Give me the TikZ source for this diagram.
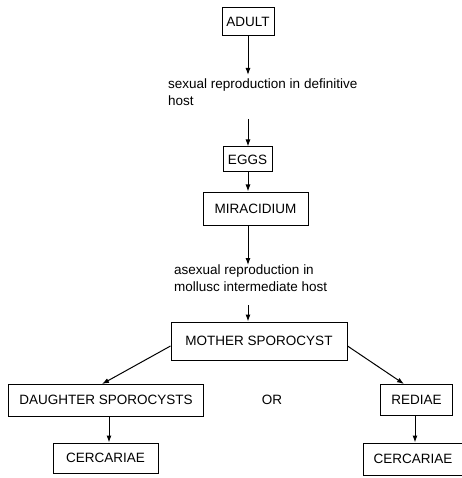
\documentclass[tikz,border=0pt]{standalone}
\usepackage{fontspec}
\setmainfont{Liberation Sans}
\usepackage{tikz}
\usetikzlibrary{arrows.meta,positioning,calc}

\begin{document}
\begin{tikzpicture}[x=1pt,y=-1pt,
  stage/.style={draw, line width=1pt, inner sep=0pt, font=\fontsize{13.5}{16}\selectfont},
  note/.style={anchor=north west, inner sep=0pt, align=left, font=\fontsize{13.5}{16.5}\selectfont},
  arr/.style={-{Latex[length=7pt,width=5pt]}, line width=1pt}]
\useasboundingbox (0,0) rectangle (461,478);
% life cycle, top part
\node[stage, minimum width=52pt, minimum height=28pt] (adult) at (248,22) {ADULT};
\node[note] (sexual) at (168,79) {sexual reproduction in definitive\\host};
\coordinate (s1) at (248,75);
\coordinate (s2) at (248,119);
\draw[arr] (adult.south -| s1) -- (s1);
\node[stage, minimum width=49pt, minimum height=25pt] (eggs) at (247.5,159.5) {EGGS};
\draw[arr] (s2) -- (eggs.north -| s2);
\node[stage, minimum width=105pt, minimum height=33pt] (mira) at (255.5,208.5) {MIRACIDIUM};
\draw[arr] (eggs.south -| s1) -- (mira.north -| s1);

% asexual part in the snail
\node[note] (asexual) at (174,265) {asexual reproduction in\\mollusc intermediate host};
\coordinate (s3) at (248,265);
\coordinate (s4) at (248,305);
\draw[arr] (mira.south -| s3) -- (s3);
\node[stage, minimum width=176pt, minimum height=38pt] (mother) at (259,341) {MOTHER SPOROCYST};
\draw[arr] (s4) -- (mother.north -| s4);

% two routes
\node[stage, minimum width=195pt, minimum height=32pt] (daughter) at (106,400) {DAUGHTER SPOROCYSTS};
\node[font=\fontsize{13.5}{16}\selectfont] (or) at (272,400) {OR};
\node[stage, minimum width=72pt, minimum height=31pt] (rediae) at (416.5,399.5) {REDIAE};
\draw[arr] ([yshift=-5pt]mother.west) -- (102,384);
\draw[arr] ([yshift=-5pt]mother.east) -- (404,384);
\node[stage, minimum width=105pt, minimum height=30pt] (cerc1) at (105.5,458) {CERCARIAE};
\node[stage, minimum width=100pt, minimum height=32pt] (cerc2) at (413,459) {CERCARIAE};
\draw[arr] ($(daughter.south)+(3,0)$) -- ($(cerc1.north)+(3.5,0)$);
\draw[arr] ($(rediae.south)+(-1.5,0)$) -- ($(cerc2.north)+(2,0)$);
\end{tikzpicture}
\end{document}
